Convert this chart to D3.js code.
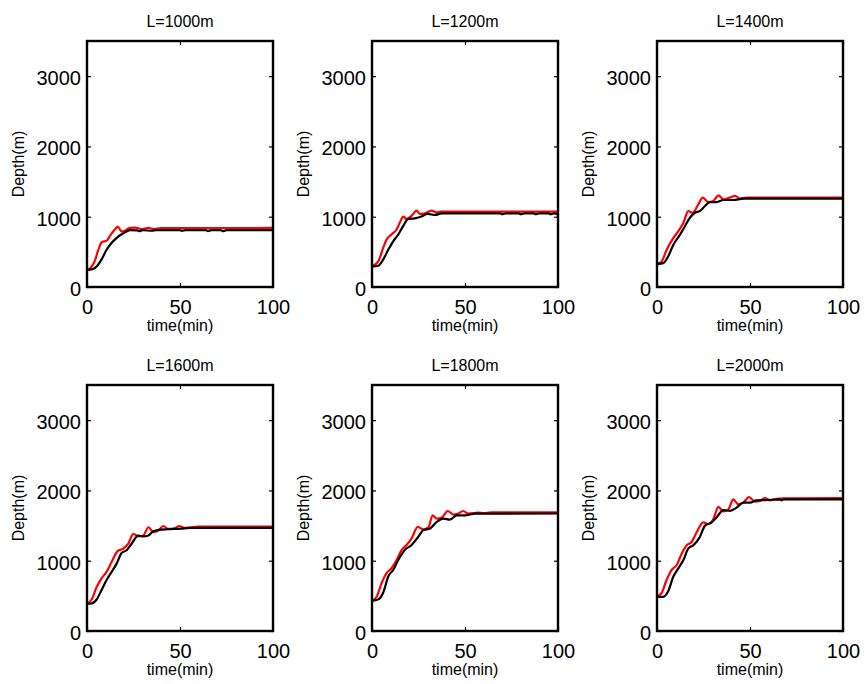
<!DOCTYPE html>
<html>
<head>
<meta charset="utf-8">
<script src="https://d3js.org/d3.v7.min.js"></script>
<style>
  body { margin: 0; background: #fff; }
  svg { font-family: "Liberation Sans", Arial, sans-serif; }
  .box { fill: none; stroke: #000; stroke-width: 2.4; }
  .tick line { stroke: #000; stroke-width: 1.2; }
  .domain { display: none; }
</style>
</head>
<body>
<svg id="chart" width="865" height="684"></svg>
<script>
// panel titles
const panelTitles = ["L=1000m", "L=1200m", "L=1400m", "L=1600m", "L=1800m", "L=2000m"];

// axis ticks
const xTicks = [0, 50, 100];
const yTicks = [0, 1000, 2000, 3000];

// [time(min), depth(m)], red curve
const red1000 = [[0,245],[2,275],[4.3,380],[6,520],[8,640],[10.6,660],[12.4,730],[14.7,810],[16.5,860],[18.6,790],[20.4,800],[23,840],[26,845],[29,825],[33,840],[36,825],[40,838],[100,840]];
const red1200 = [[0,293],[3.4,365],[6,558],[7.9,678],[10.6,750],[13.3,822],[15,918],[16.8,1000],[18.6,967],[21.3,1015],[24,1087],[25.8,1039],[28.5,1048],[32,1087],[34.8,1063],[37,1072],[100,1072]];
const red1400 = [[0,325],[2.5,363],[5.2,530],[8.8,698],[11.5,794],[14.2,913],[16.8,1080],[19.2,1056],[22.2,1176],[24.6,1271],[27.6,1209],[30.3,1224],[33,1305],[35.7,1248],[39,1271],[42,1296],[44.6,1257],[48,1271],[100,1271]];
const red1600 = [[0,388],[2.5,448],[5.2,626],[7.9,752],[10.6,845],[13.3,985],[16.5,1139],[19.5,1172],[22.2,1242],[24.9,1382],[27.6,1345],[30.3,1359],[33,1476],[35.7,1406],[38.4,1429],[41,1494],[43.7,1452],[47.3,1462],[49.5,1494],[52.7,1466],[56,1476],[60,1485],[100,1485]];
const red1800 = [[0,427],[2.5,488],[5.2,685],[7.9,826],[10.6,896],[13.3,1013],[16,1154],[18.6,1224],[21.3,1318],[24.6,1482],[27.6,1445],[30.3,1473],[32.6,1646],[34.8,1599],[37.5,1613],[40.7,1707],[43.7,1656],[46.4,1670],[49,1707],[51.8,1670],[57,1684],[60,1677],[64,1688],[100,1688]];
const red2000 = [[0,486],[2.5,542],[5.2,729],[7.9,869],[10.6,939],[13.3,1102],[16,1219],[18.6,1266],[21.3,1406],[24.9,1546],[27.6,1522],[30.3,1592],[33,1765],[35.7,1700],[38.4,1732],[41,1873],[43.7,1803],[46.4,1826],[49.5,1905],[52.7,1840],[55.4,1849],[58,1896],[60.8,1859],[64.3,1882],[68,1887],[100,1890]];

// black curve
const black1000 = [[0,245],[3,255],[5.2,293],[8,400],[10.6,534],[13.3,630],[16,700],[18.6,750],[21.3,790],[23,808],[27,805],[28,795],[30,808],[35,800],[37,808],[50,808],[51,798],[53,808],[64,808],[65,796],[67,808],[72,808],[73,795],[75,808],[100,808]];
const black1200 = [[0,293],[3.4,303],[6,390],[8.8,534],[11.5,654],[14.2,750],[16.8,870],[19.5,967],[23,976],[26.7,1005],[30,1039],[34,1025],[37.5,1048],[69,1048],[70,1035],[72,1048],[79,1048],[80,1035],[82,1048],[87,1048],[88,1035],[90,1048],[95,1048],[96,1035],[98,1048],[100,1030]];
const black1400 = [[0,325],[3.4,339],[6,435],[8.8,602],[12.4,746],[15,865],[17.7,985],[20.4,1056],[23,1080],[25.8,1152],[28.5,1209],[32,1209],[35.7,1238],[41,1238],[46.4,1257],[100,1257]];
const black1600 = [[0,388],[2.5,392],[5.2,448],[7.9,588],[10.6,729],[13.3,845],[16,962],[18.6,1111],[21.3,1149],[24,1242],[27.6,1359],[30.3,1345],[33,1359],[35.7,1420],[38.4,1438],[43.7,1448],[50.9,1457],[55,1466],[100,1466]];
const black1800 = [[0,427],[3.4,450],[6,544],[8.8,779],[11.5,872],[14.2,1013],[17.7,1154],[21.3,1224],[24.9,1341],[27.6,1435],[31.2,1459],[34.8,1552],[38.4,1599],[41.9,1585],[45.5,1646],[50,1646],[55.4,1670],[100,1672]];
const black2000 = [[0,486],[3.4,486],[6,565],[8.8,775],[11.5,892],[14.2,1009],[16.8,1172],[19.5,1219],[23,1336],[25.8,1499],[29.4,1546],[32,1616],[35.7,1719],[39.3,1709],[42.8,1756],[46.4,1826],[50,1826],[53.5,1859],[58,1863],[66,1873],[67,1860],[68,1873],[100,1873]];

const redSeries = [red1000, red1200, red1400, red1600, red1800, red2000];
const blackSeries = [black1000, black1200, black1400, black1600, black1800, black2000];

const svg = d3.select("#chart");

const colLeft = [87, 372, 657];
const rowTop = [41, 385];
const w = 186, h = 246;

const x = d3.scaleLinear().domain([0, 100]).range([0, w]);
const y = d3.scaleLinear().domain([0, 3500]).range([h, 0]);

const line = d3.line()
    .curve(d3.curveMonotoneX)
    .x(d => x(d[0]))
    .y(d => y(d[1]));

panelTitles.forEach((title, i) => {
  const g = svg.append("g")
      .attr("transform", "translate(" + colLeft[i % 3] + "," + rowTop[Math.floor(i / 3)] + ")");

  // curves (red under black)
  g.append("path")
      .datum(redSeries[i])
      .attr("fill", "none")
      .attr("stroke", "#ff0000")
      .attr("stroke-width", 2.2)
      .attr("d", line);

  g.append("path")
      .datum(blackSeries[i])
      .attr("fill", "none")
      .attr("stroke", "#000")
      .attr("stroke-width", 2.2)
      .attr("d", line);

  // inward ticks on all four sides, labels only bottom/left
  g.append("g")
      .attr("transform", "translate(0," + h + ")")
      .call(d3.axisBottom(x).tickValues(xTicks).tickSize(-4).tickPadding(8).tickFormat(d3.format("d")))
      .call(a => a.selectAll("text").attr("font-size", 20).attr("fill", "#000").attr("dy", "0.95em"));

  g.append("g")
      .call(d3.axisTop(x).tickValues(xTicks).tickSize(-4).tickFormat(""));

  g.append("g")
      .call(d3.axisLeft(y).tickValues(yTicks).tickSize(-4).tickPadding(6).tickFormat(d3.format("d")))
      .call(a => a.selectAll("text").attr("font-size", 20).attr("fill", "#000").attr("dy", "0.42em"));

  g.append("g")
      .attr("transform", "translate(" + w + ",0)")
      .call(d3.axisRight(y).tickValues(yTicks).tickSize(-4).tickFormat(""));

  g.selectAll(".tick line").attr("stroke", "#000");

  g.append("rect")
      .attr("class", "box")
      .attr("width", w)
      .attr("height", h);

  g.append("text")
      .attr("x", w / 2)
      .attr("y", -14)
      .attr("text-anchor", "middle")
      .attr("font-size", 16)
      .text(title);

  g.append("text")
      .attr("x", w / 2)
      .attr("y", h + 44)
      .attr("text-anchor", "middle")
      .attr("font-size", 16)
      .text("time(min)");

  g.append("text")
      .attr("transform", "translate(-63," + (h / 2) + ") rotate(-90)")
      .attr("text-anchor", "middle")
      .attr("font-size", 16)
      .text("Depth(m)");
});
</script>
</body>
</html>
